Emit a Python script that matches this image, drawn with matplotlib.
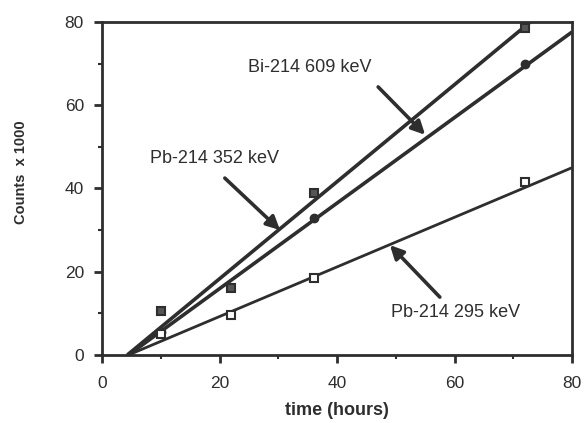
import numpy as np
import matplotlib.pyplot as plt

plt.rcParams['font.family'] = ['Liberation Sans', 'DejaVu Sans']

################

# measured points
t_pb352 = [10, 22, 36, 72]
c_pb352 = [10.5, 16, 39, 78.5]

t_bi609 = [10, 36, 72]
c_bi609 = [5.5, 33, 70]

t_pb295 = [10, 22, 36, 72]
c_pb295 = [5, 9.5, 18.5, 41.5]

# fitted lines (start, end)
fit_t_pb352 = [4.3, 72.9]
fit_c_pb352 = [0, 80]
fit_t_bi609 = [4.5, 80]
fit_c_bi609 = [0, 77.6]
fit_t_pb295 = [4.5, 80]
fit_c_pb295 = [0, 45]

################

ink = '#2e2e2e'

fig = plt.figure(figsize=(5.84, 4.23), dpi=100)
ax = fig.add_axes([0.1747, 0.1608, 0.8048, 0.7872])

ax.plot(fit_t_pb352, fit_c_pb352, color=ink, lw=2.6, solid_capstyle='butt')
ax.plot(fit_t_bi609, fit_c_bi609, color=ink, lw=2.6, solid_capstyle='butt')
ax.plot(fit_t_pb295, fit_c_pb295, color=ink, lw=2.0, solid_capstyle='butt')

ax.plot(t_pb352, c_pb352, 's', ms=6, mfc='#555555', mec=ink, mew=1.5)
ax.plot(t_bi609, c_bi609, 'o', ms=6, mfc=ink, mec=ink)
ax.plot(t_pb295, c_pb295, 's', ms=6, mfc='white', mec=ink, mew=1.5)

arrow = dict(arrowstyle='-|>', lw=2.6, color=ink, mutation_scale=20,
             shrinkA=0, shrinkB=0)
ax.annotate('', xy=(55, 52.9), xytext=(47, 64.4), arrowprops=arrow)
ax.text(35.4, 69, 'Bi-214 609 keV', ha='center', va='center', fontsize=13, color=ink)
ax.annotate('', xy=(30.3, 30), xytext=(20.9, 42.5), arrowprops=arrow)
ax.text(19.2, 47.3, 'Pb-214 352 keV', ha='center', va='center', fontsize=13, color=ink)
ax.annotate('', xy=(49, 26.4), xytext=(57.5, 13.9), arrowprops=arrow)
ax.text(60.1, 10.3, 'Pb-214 295 keV', ha='center', va='center', fontsize=13, color=ink)

ax.set_xlim(0, 80)
ax.set_ylim(0, 80)
ax.set_xticks([0, 20, 40, 60, 80])
ax.set_yticks([0, 20, 40, 60, 80])
ax.set_xticks([10, 30, 50, 70], minor=True)
ax.set_yticks([10, 30, 50, 70], minor=True)
ax.tick_params(which='major', direction='out', length=6, width=2, color=ink,
               labelsize=12.5, labelcolor=ink)
ax.tick_params(axis='x', which='major', pad=9)
ax.tick_params(axis='y', which='major', pad=7)
ax.tick_params(which='minor', direction='out', length=3, width=1.5, color=ink)
for s in ax.spines.values():
    s.set_linewidth(2)
    s.set_color(ink)

ax.set_xlabel('time (hours)', fontsize=13, fontweight='bold', color=ink, labelpad=8)
ax.set_ylabel('Counts  x 1000', fontsize=10.5, fontweight='bold', color=ink)
ax.yaxis.set_label_coords(-0.158, 0.55)

fig.savefig('out.png', dpi=100)
